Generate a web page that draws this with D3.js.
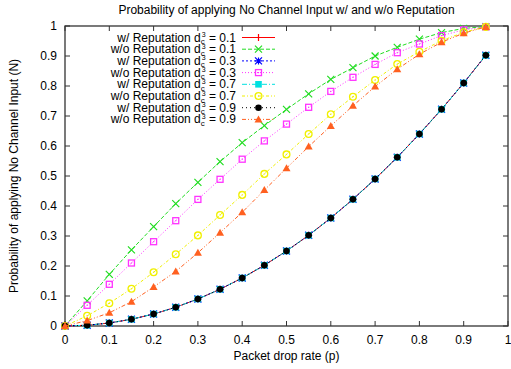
<!DOCTYPE html>
<meta charset="utf-8">
<script src="https://d3js.org/d3.v7.min.js"></script>
<style>
  body { margin: 0; background: #fff; }
  text { font-family: "Liberation Sans", Arial, sans-serif; fill: #000; }
</style>
<div id="chart"></div>
<script>
// packet drop rate
var pValues = [0, 0.05, 0.1, 0.15, 0.2, 0.25, 0.3, 0.35, 0.4, 0.45, 0.5, 0.55, 0.6, 0.65, 0.7, 0.75, 0.8, 0.85, 0.9, 0.95];

// w/ Reputation curves all lie on top of each other
var withRep = [0, 0.0025, 0.01, 0.0225, 0.04, 0.0625, 0.09, 0.1225, 0.16, 0.2025, 0.25, 0.3025, 0.36, 0.4225, 0.49, 0.5625, 0.64, 0.7225, 0.81, 0.9025];

var woRepD01 = [0, 0.084, 0.172, 0.254, 0.331, 0.408, 0.479, 0.548, 0.611, 0.668, 0.722, 0.774, 0.822, 0.861, 0.9, 0.929, 0.956, 0.978, 0.992, 0.998];
var woRepD03 = [0, 0.069, 0.139, 0.21, 0.281, 0.351, 0.422, 0.489, 0.556, 0.617, 0.673, 0.729, 0.782, 0.829, 0.872, 0.911, 0.94, 0.968, 0.987, 0.997];
var woRepD07 = [0, 0.034, 0.076, 0.124, 0.179, 0.239, 0.302, 0.37, 0.437, 0.507, 0.572, 0.64, 0.706, 0.764, 0.82, 0.873, 0.914, 0.951, 0.979, 0.997];
var woRepD09 = [0, 0.018, 0.044, 0.081, 0.13, 0.182, 0.244, 0.311, 0.379, 0.453, 0.526, 0.598, 0.667, 0.734, 0.798, 0.856, 0.906, 0.946, 0.976, 0.997];

var tickValues = [0, 0.1, 0.2, 0.3, 0.4, 0.5, 0.6, 0.7, 0.8, 0.9, 1];
var tickLabels = ["0", "0.1", "0.2", "0.3", "0.4", "0.5", "0.6", "0.7", "0.8", "0.9", "1"];

var seriesPrefix = ["w/ Reputation d", "w/o Reputation d", "w/ Reputation d", "w/o Reputation d",
                    "w/ Reputation d", "w/o Reputation d", "w/ Reputation d", "w/o Reputation d"];
var seriesDc = ["0.1", "0.1", "0.3", "0.3", "0.7", "0.7", "0.9", "0.9"];
var seriesValues = [withRep, woRepD01, withRep, woRepD03, withRep, woRepD07, withRep, woRepD09];

// gnuplot-ish styles
var styles = [
  {color: "#ff0000", dash: null,      marker: "plus"},
  {color: "#22dd22", dash: "4,2",     marker: "cross"},
  {color: "#0000ff", dash: "2,2",     marker: "star"},
  {color: "#ff33ff", dash: "1,2",     marker: "squareOpen"},
  {color: "#00e0e0", dash: "5,2,1,2", marker: "square"},
  {color: "#f0f000", dash: "3,2,1,2", marker: "circleOpen"},
  {color: "#000000", dash: "1,3",     marker: "circle"},
  {color: "#ff6020", dash: "4,2,1,2,1,2", marker: "triangle"}
];

var W = 511, H = 369;
var margin = {top: 26, right: 3, bottom: 43, left: 65};
var width = W - margin.left - margin.right,
    height = H - margin.top - margin.bottom;
var fs = 12;

var svg = d3.select("#chart").append("svg")
  .attr("width", W).attr("height", H);

var g = svg.append("g")
  .attr("transform", "translate(" + margin.left + "," + margin.top + ")");

var x = d3.scaleLinear().domain([0, 1]).range([0, width]);
var y = d3.scaleLinear().domain([0, 1]).range([height, 0]);

// frame
g.append("rect")
  .attr("width", width).attr("height", height)
  .attr("fill", "none").attr("stroke", "#333").attr("stroke-width", 1.3);

// ticks (inward, mirrored) and labels
var tk = 5;
tickValues.forEach(function(v, i) {
  g.append("line").attr("x1", x(v)).attr("x2", x(v)).attr("y1", height).attr("y2", height - tk).attr("stroke", "#333");
  g.append("line").attr("x1", x(v)).attr("x2", x(v)).attr("y1", 0).attr("y2", tk).attr("stroke", "#333");
  g.append("line").attr("y1", y(v)).attr("y2", y(v)).attr("x1", 0).attr("x2", tk).attr("stroke", "#333");
  g.append("line").attr("y1", y(v)).attr("y2", y(v)).attr("x1", width).attr("x2", width - tk).attr("stroke", "#333");
  g.append("text").attr("x", x(v)).attr("y", height + 18)
    .attr("text-anchor", "middle").attr("font-size", fs).text(tickLabels[i]);
  g.append("text").attr("x", -8).attr("y", y(v) + 4)
    .attr("text-anchor", "end").attr("font-size", fs).text(tickLabels[i]);
});

// titles
svg.append("text").attr("x", margin.left + width / 2).attr("y", 14)
  .attr("text-anchor", "middle").attr("font-size", fs)
  .text("Probability of applying No Channel Input w/ and w/o Reputation");
svg.append("text").attr("x", margin.left + width / 2).attr("y", 360)
  .attr("text-anchor", "middle").attr("font-size", fs)
  .text("Packet drop rate (p)");
svg.append("text")
  .attr("transform", "translate(18," + (margin.top + height / 2) + ") rotate(-90)")
  .attr("text-anchor", "middle").attr("font-size", fs)
  .text("Probability of applying No Channel Input (N)");

function drawMarker(sel, type, color) {
  var s = 3.5;
  if (type === "plus") {
    sel.append("path").attr("d", "M" + -s + ",0H" + s + "M0," + -s + "V" + s)
      .attr("stroke", color).attr("stroke-width", 1.2);
  } else if (type === "cross") {
    sel.append("path").attr("d", "M" + -s + "," + -s + "L" + s + "," + s + "M" + -s + "," + s + "L" + s + "," + -s)
      .attr("stroke", color).attr("stroke-width", 1.2);
  } else if (type === "star") {
    sel.append("path").attr("d", "M" + -s + ",0H" + s + "M0," + -s + "V" + s +
        "M" + -s + "," + -s + "L" + s + "," + s + "M" + -s + "," + s + "L" + s + "," + -s)
      .attr("stroke", color).attr("stroke-width", 1.2);
  } else if (type === "squareOpen") {
    sel.append("rect").attr("x", -3).attr("y", -3).attr("width", 6).attr("height", 6)
      .attr("fill", "none").attr("stroke", color).attr("stroke-width", 1.3);
    sel.append("rect").attr("x", -0.6).attr("y", -0.6).attr("width", 1.2).attr("height", 1.2).attr("fill", color);
  } else if (type === "square") {
    sel.append("rect").attr("x", -3.3).attr("y", -3.3).attr("width", 6.6).attr("height", 6.6).attr("fill", color);
  } else if (type === "circleOpen") {
    sel.append("circle").attr("r", 3.4).attr("fill", "none").attr("stroke", color).attr("stroke-width", 1.3);
    sel.append("circle").attr("r", 0.7).attr("fill", color);
  } else if (type === "circle") {
    sel.append("circle").attr("r", 3.3).attr("fill", color);
  } else if (type === "triangle") {
    sel.append("path").attr("d", "M0,-4L4,3L-4,3Z").attr("fill", color);
  }
}

var line = d3.line()
  .x(function(d, i) { return x(pValues[i]); })
  .y(function(d) { return y(d); });

seriesValues.forEach(function(vals, k) {
  var st = styles[k];
  g.append("path").datum(vals)
    .attr("fill", "none").attr("stroke", st.color).attr("stroke-width", 1)
    .attr("stroke-dasharray", st.dash)
    .attr("d", line);
  vals.forEach(function(v, i) {
    var m = g.append("g").attr("transform", "translate(" + x(pValues[i]) + "," + y(v) + ")");
    drawMarker(m, st.marker, st.color);
  });
});

// legend
var legX = 236, legY0 = 37.5, legDy = 11.7;
seriesPrefix.forEach(function(pre, k) {
  var st = styles[k];
  var ly = legY0 + k * legDy;
  var t = svg.append("text").attr("x", legX).attr("y", ly + 4)
    .attr("text-anchor", "end").attr("font-size", fs);
  t.append("tspan").text(pre);
  t.append("tspan").attr("font-size", 8).attr("dy", 2.5).text("c");
  t.append("tspan").attr("font-size", 7).attr("dx", -3).attr("dy", -7).text("3");
  t.append("tspan").attr("dy", 4.5).text(" = " + seriesDc[k]);
  svg.append("line").attr("x1", 242).attr("x2", 275).attr("y1", ly).attr("y2", ly)
    .attr("stroke", st.color).attr("stroke-dasharray", st.dash);
  var m = svg.append("g").attr("transform", "translate(258.5," + ly + ")");
  drawMarker(m, st.marker, st.color);
});
</script>
